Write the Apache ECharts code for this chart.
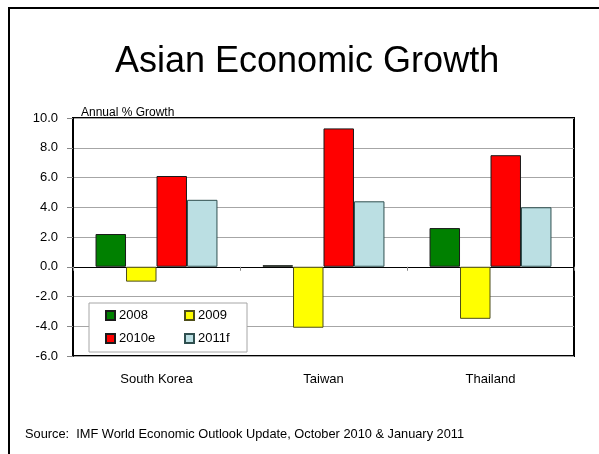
<!DOCTYPE html>
<html>
<head>
<meta charset="utf-8">
<script src="https://cdn.jsdelivr.net/npm/echarts@6/dist/echarts.min.js"></script>
<style>html,body{margin:0;padding:0;background:#fff;}#c{width:599px;height:454px;}</style>
</head>
<body>
<div id="c"></div>
<script>
const categories = ['South Korea', 'Taiwan', 'Thailand'];
const seriesNames = ['2008', '2009', '2010e', '2011f'];
const v2008 = [2.2, 0.1, 2.6];
const v2009 = [-1.0, -4.1, -3.5];
const v2010e = [6.1, 9.3, 7.5];
const v2011f = [4.5, 4.4, 4.0];
const yTicks = [-6, -4, -2, 0, 2, 4, 6, 8, 10];

const font = 'Liberation Sans, Arial, sans-serif';
const colors = ['#008000', '#FFFF00', '#FF0000', '#BBDFE3'];
const borders = ['#1a1a1a', '#4d4d1a', '#1a1a1a', '#2f4f4f'];
const values = [v2008, v2009, v2010e, v2011f];
const legendPos = [[105, 309], [184, 309], [105, 332], [184, 332]];

const chart = echarts.init(document.getElementById('c'), null, {renderer: 'canvas'});
chart.setOption({
  animation: false,
  backgroundColor: '#fff',
  title: [
    {text: 'Asian Economic Growth', left: 115, top: 44, padding: 0,
     textStyle: {fontFamily: font, fontSize: 36, fontWeight: 'normal', color: '#000'}},
    {text: 'Annual % Growth', left: 81, top: 107, padding: 0,
     textStyle: {fontFamily: font, fontSize: 12, fontWeight: 'normal', color: '#000'}},
    {text: 'Source:  IMF World Economic Outlook Update, October 2010 & January 2011', left: 25, top: 428, padding: 0,
     textStyle: {fontFamily: font, fontSize: 12.8, fontWeight: 'normal', color: '#000'}}
  ],
  grid: {left: 73, top: 118, right: 25, bottom: 98, show: true, borderColor: '#000', borderWidth: 2, backgroundColor: 'transparent'},
  legend: seriesNames.map((n, i) => ({
    data: [n], left: legendPos[i][0], top: legendPos[i][1], padding: 0, itemGap: 5,
    itemWidth: 9, itemHeight: 9, icon: 'rect', z: 10,
    textStyle: {fontFamily: font, fontSize: 13, color: '#000', padding: [0, 0, 0, -1]}
  })),
  graphic: [
    {type: 'rect', z: 3, shape: {x: 89, y: 303, width: 158, height: 49},
     style: {fill: '#fff', stroke: '#A6A6A6', lineWidth: 1}},
    {type: 'rect', z: 0, silent: true, shape: {x: 9, y: 8, width: 700, height: 600},
     style: {fill: null, stroke: '#000', lineWidth: 2}}
  ],
  xAxis: [
    {type: 'category', data: categories, position: 'bottom',
     axisLine: {show: true, onZero: true, lineStyle: {color: '#000', width: 1}},
     axisTick: {show: true, length: 4, lineStyle: {color: '#888'}},
     axisLabel: {show: false}, splitLine: {show: false}},
    {type: 'category', data: categories, position: 'bottom',
     axisLine: {show: false, onZero: false}, axisTick: {show: false},
     axisLabel: {show: true, margin: 17, fontFamily: font, fontSize: 13, color: '#000'},
     splitLine: {show: false}}
  ],
  yAxis: {
    type: 'value', min: yTicks[0], max: yTicks[yTicks.length - 1], interval: 2,
    axisLine: {show: true, lineStyle: {color: '#000', width: 2}},
    axisTick: {show: true, length: 6, lineStyle: {color: '#888'}},
    axisLabel: {margin: 15, fontFamily: font, fontSize: 13, color: '#000', formatter: v => v.toFixed(1)},
    splitLine: {show: true, lineStyle: {color: '#A6A6A6', width: 1}}
  },
  series: seriesNames.map((n, i) => ({
    name: n, type: 'bar', xAxisIndex: 0, data: values[i],
    barGap: '0%', barCategoryGap: '27%',
    itemStyle: {color: colors[i], borderColor: borders[i], borderWidth: 1}
  }))
});
</script>
</body>
</html>
